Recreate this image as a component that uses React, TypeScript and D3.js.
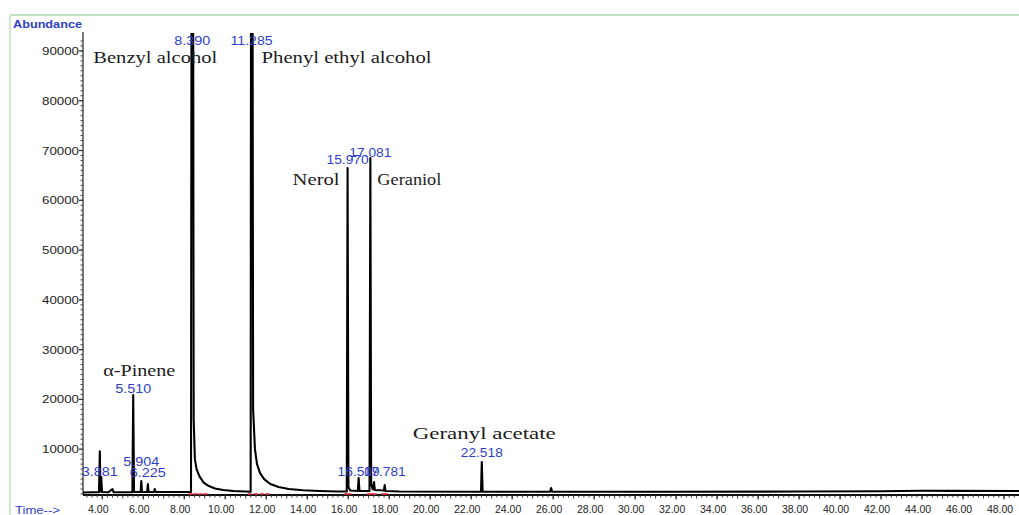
import React from "react";
import * as d3 from "d3";

// chromatogram trace: [retention time (min), abundance]
const trace: [number, number][] = [
  [3.06, 1300], [3.5, 1350], [3.84, 1350], [3.881, 9600], [3.91, 1500],
  [3.95, 4400], [3.99, 1400], [4.3, 1350], [4.5, 2000], [4.55, 1350],
  [5.0, 1350], [5.47, 1350], [5.51, 20900], [5.55, 1400], [5.87, 1400],
  [5.904, 3600], [5.94, 1400], [6.19, 1400], [6.225, 3000], [6.26, 1400],
  [6.52, 1400], [6.56, 2000], [6.6, 1400], [8.33, 1400], [8.39, 250000],
  [8.46, 16000], [8.52, 8000], [8.6, 6000], [8.75, 4500], [8.95, 3300],
  [9.2, 2600], [9.5, 2100], [9.9, 1800], [10.4, 1600], [11.0, 1500],
  [11.24, 1450], [11.285, 250000], [11.36, 18000], [11.45, 10000], [11.55, 7000],
  [11.7, 5200], [11.9, 4000], [12.2, 3000], [12.6, 2400], [13.1, 2000],
  [13.8, 1750], [14.6, 1600], [15.5, 1500], [15.93, 1500], [15.97, 66500],
  [16.01, 2400], [16.1, 1700], [16.47, 1600], [16.509, 4200], [16.55, 1600],
  [17.04, 1600], [17.081, 68500], [17.12, 3000], [17.2, 1900], [17.26, 3400],
  [17.3, 1800], [17.74, 1700], [17.781, 2800], [17.82, 1600], [18.5, 1500],
  [22.48, 1450], [22.518, 7400], [22.56, 1450], [25.85, 1450], [25.9, 2200],
  [25.95, 1450], [32, 1450], [38, 1500], [42, 1550], [44, 1650],
  [45.5, 1620], [48.73, 1600],
];

// retention time labels (blue)
const peakTimes = [3.881, 5.51, 5.904, 6.225, 8.39, 11.285, 15.97, 16.509, 17.081, 17.781, 22.518];

// identified compounds
const compoundNames = ["α-Pinene", "Benzyl alcohol", "Phenyl ethyl alcohol", "Nerol", "Geraniol", "Geranyl acetate"];
const compoundTimes = [5.51, 8.39, 11.285, 15.97, 17.081, 22.518];

// integration markers (red) at the baseline
const integrationMarks = [8.3, 8.55, 8.8, 9.05, 11.2, 11.5, 11.8, 12.05, 15.9, 16.05, 17.0, 17.12, 17.3, 17.7, 17.85];

const xTicks = [4, 6, 8, 10, 12, 14, 16, 18, 20, 22, 24, 26, 28, 30, 32, 34, 36, 38, 40, 42, 44, 46, 48];
const yTicks = [10000, 20000, 30000, 40000, 50000, 60000, 70000, 80000, 90000];

// label layout (pixels): baseline y for each retention label, offsets for compound names
const peakLabelY = [476, 393, 466, 477, 45, 45, 164, 476, 157, 476, 457];
const compoundLayout = [
  { dx: -30, y: 376, w: 72 },
  { dx: -99, y: 63, w: 124 },
  { dx: 10, y: 63, w: 170 },
  { dx: -55, y: 185, w: 47 },
  { dx: 7, y: 185, w: 64 },
  { dx: -69, y: 439, w: 143 },
];

const W = 1019;
const H = 515;
const SANS = "'Liberation Sans', Arial, sans-serif";
const SERIF = "'Liberation Serif', 'Times New Roman', serif";
const BLUE = "#2f3fc8";

export default function App() {
  const axisX = 83;
  const axisY = 495;
  const x = d3.scaleLinear().domain([3.06, 48.73]).range([axisX, W]);
  const y = d3.scaleLinear().domain([800, 93000]).range([axisY, 36]);

  const line = d3
    .line<[number, number]>()
    .x((d) => x(d[0]))
    .y((d) => y(d[1]));

  const minorX = d3.range(3.25, 48.75, 0.25);
  const minorY = d3.range(1000, 93000, 1000);

  return (
    <svg
      width={W}
      height={H}
      style={{ position: "absolute", left: 0, top: 0, background: "#fff" }}
    >
      <defs>
        <clipPath id="plot">
          <rect x={axisX} y={33} width={W - axisX} height={axisY - 33 + 2} />
        </clipPath>
      </defs>

      {/* green frame */}
      <line x1={10} y1={15} x2={W} y2={15} stroke="#bfe4bf" strokeWidth={2} />
      <line x1={10} y1={15} x2={10} y2={H} stroke="#cde9cd" strokeWidth={2} />

      <text x={13} y={28} fontFamily={SANS} fontSize={10} fontWeight="bold" fill={BLUE}
        textLength={69} lengthAdjust="spacingAndGlyphs">Abundance</text>
      <text x={15} y={514} fontFamily={SANS} fontSize={10} fill={BLUE}
        textLength={45} lengthAdjust="spacingAndGlyphs">Time--&gt;</text>

      {/* y axis */}
      <line x1={axisX} y1={32} x2={axisX} y2={axisY} stroke="#333" strokeWidth={1.3} />
      {minorY.map((v) => (
        <line key={"my" + v} x1={axisX - 2.5} x2={axisX} y1={y(v)} y2={y(v)} stroke="#444" strokeWidth={1} />
      ))}
      {yTicks.map((v) => (
        <g key={"y" + v}>
          <line x1={axisX - 4} x2={axisX} y1={y(v)} y2={y(v)} stroke="#333" strokeWidth={1.2} />
          <text x={79} y={y(v) + 4} textAnchor="end" fontFamily={SANS} fontSize={11} fill="#222"
            textLength={37} lengthAdjust="spacingAndGlyphs">{v}</text>
        </g>
      ))}

      {/* x axis */}
      <line x1={axisX} y1={axisY} x2={W} y2={axisY} stroke="#111" strokeWidth={2} />
      {minorX.map((t) => (
        <line key={"mx" + t} x1={x(t)} x2={x(t)} y1={axisY} y2={axisY + (t % 1 === 0 ? 3.5 : 2.5)}
          stroke="#333" strokeWidth={1} />
      ))}
      {xTicks.map((t) => (
        <g key={"x" + t}>
          <line x1={x(t)} x2={x(t)} y1={axisY} y2={axisY + 4.5} stroke="#222" strokeWidth={1} />
          <text x={x(t) - 4} y={513} textAnchor="middle" fontFamily={SANS} fontSize={10.5} fill="#222">
            {t.toFixed(2)}
          </text>
        </g>
      ))}

      {/* trace */}
      <path d={line(trace) ?? ""} fill="none" stroke="#000" strokeWidth={2.1}
        strokeLinejoin="round" clipPath="url(#plot)" />

      {/* integration markers */}
      {integrationMarks.map((t) => (
        <line key={"r" + t} x1={x(t) - 2} x2={x(t) + 2} y1={axisY - 1} y2={axisY - 1}
          stroke="#e0303a" strokeWidth={1.6} />
      ))}

      {/* compound names */}
      {compoundNames.map((name, i) => (
        <text key={name} x={x(compoundTimes[i]) + compoundLayout[i].dx} y={compoundLayout[i].y}
          fontFamily={SERIF} fontSize={17} fill="#1c1c1c"
          textLength={compoundLayout[i].w} lengthAdjust="spacingAndGlyphs">{name}</text>
      ))}

      {/* retention time labels */}
      {peakTimes.map((t, i) => {
        const s = t.toFixed(3);
        return (
          <text key={"p" + t} x={x(t)} y={peakLabelY[i]} textAnchor="middle" fontFamily={SANS}
            fontSize={12} fill={BLUE} textLength={s.length > 5 ? 42 : 36}
            lengthAdjust="spacingAndGlyphs">{s}</text>
        );
      })}
    </svg>
  );
}
